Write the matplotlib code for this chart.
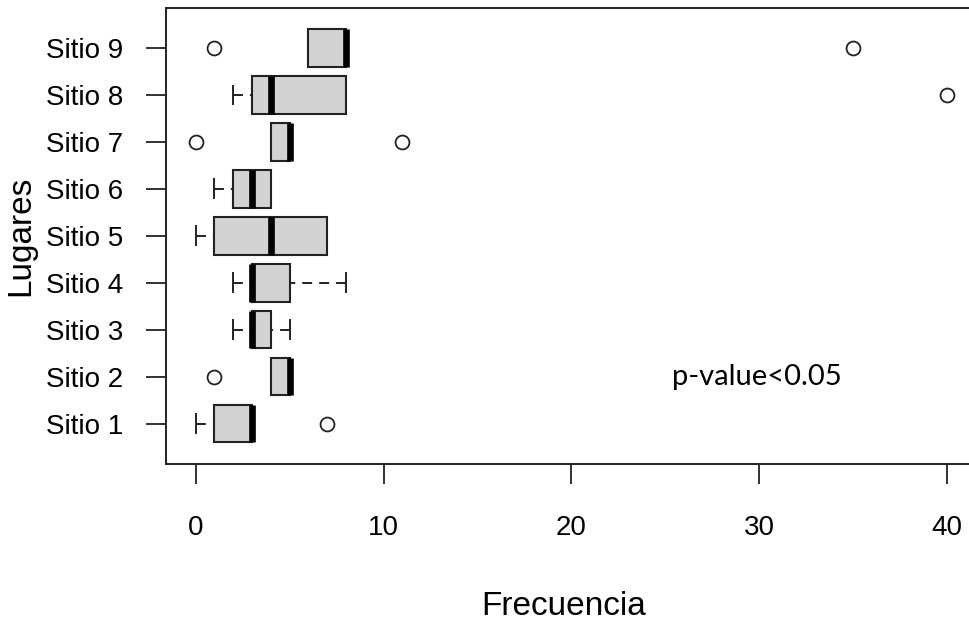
import matplotlib
matplotlib.use("Agg")
import matplotlib.pyplot as plt

# summary statistics (R-style boxplot)
sites = ["Sitio 1", "Sitio 2", "Sitio 3", "Sitio 4", "Sitio 5",
         "Sitio 6", "Sitio 7", "Sitio 8", "Sitio 9"]
q1 = [1, 4, 3, 3, 1, 2, 4, 3, 6]
med = [3, 5, 3, 3, 4, 3, 5, 4, 8]
q3 = [3, 5, 4, 5, 7, 4, 5, 8, 8]
whislo = [0, 4, 2, 2, 0, 1, 4, 2, 6]
whishi = [3, 5, 5, 8, 7, 4, 5, 8, 8]
fliers = [[7], [1], [], [], [], [], [0, 11], [40], [1, 35]]
xticks = [0, 10, 20, 30, 40]


def main():
    plt.rcParams['font.family'] = ['Liberation Sans', 'DejaVu Sans']

    fig = plt.figure(figsize=(9.69, 6.26), dpi=100)
    ax = fig.add_axes([0.1708, 0.2588, 0.8379, 0.729])

    stats = []
    for i in range(len(sites)):
        stats.append(dict(label=sites[i], med=med[i], q1=q1[i], q3=q3[i],
                          whislo=whislo[i], whishi=whishi[i], fliers=fliers[i]))

    parts = ax.bxp(stats, positions=range(1, len(sites) + 1), widths=0.8,
                   orientation='horizontal', patch_artist=True,
                   boxprops=dict(facecolor='#d3d3d3', edgecolor='#222222', linewidth=1.5),
                   medianprops=dict(color='black', linewidth=4.8, solid_capstyle='butt'),
                   whiskerprops=dict(color='#222222', linewidth=1.4,
                                     linestyle=(0, (5.1, 3.6))),
                   capprops=dict(color='#222222', linewidth=1.4),
                   flierprops=dict(marker='o', markersize=10, markerfacecolor='none',
                                   markeredgecolor='#222222', markeredgewidth=1.3))
    # R draws whiskers from the staple towards the box, so the dashes start at the staple
    for ln in parts['whiskers']:
        xd, yd = ln.get_data()
        ln.set_data(list(xd)[::-1], list(yd)[::-1])

    ax.set_xlim(-1.6, 41.6)
    ax.set_ylim(0.14, 9.86)
    ax.set_xticks(xticks)
    ax.set_xticklabels([str(t) for t in xticks])
    ax.set_yticks(range(1, len(sites) + 1))
    ax.set_yticklabels(sites)

    for s in ax.spines.values():
        s.set_linewidth(1.4)
        s.set_color('#222222')
    ax.tick_params(axis='both', length=14.5, width=1.3, color='#222222',
                   labelsize=20)
    ax.tick_params(axis='y', pad=16)
    ax.tick_params(axis='x', pad=22)

    ax.set_xlabel("Frecuencia", fontsize=24)
    ax.xaxis.set_label_coords(0.49, -0.278)
    ax.set_ylabel("Lugares", fontsize=24)
    ax.yaxis.set_label_coords(-0.159, 0.5)

    ax.text(25.36, 2.0, "p-value<0.05", fontsize=21, family='Lato',
            va='center', ha='left')

    fig.savefig("out.png", dpi=100)


if __name__ == '__main__':
    main()
